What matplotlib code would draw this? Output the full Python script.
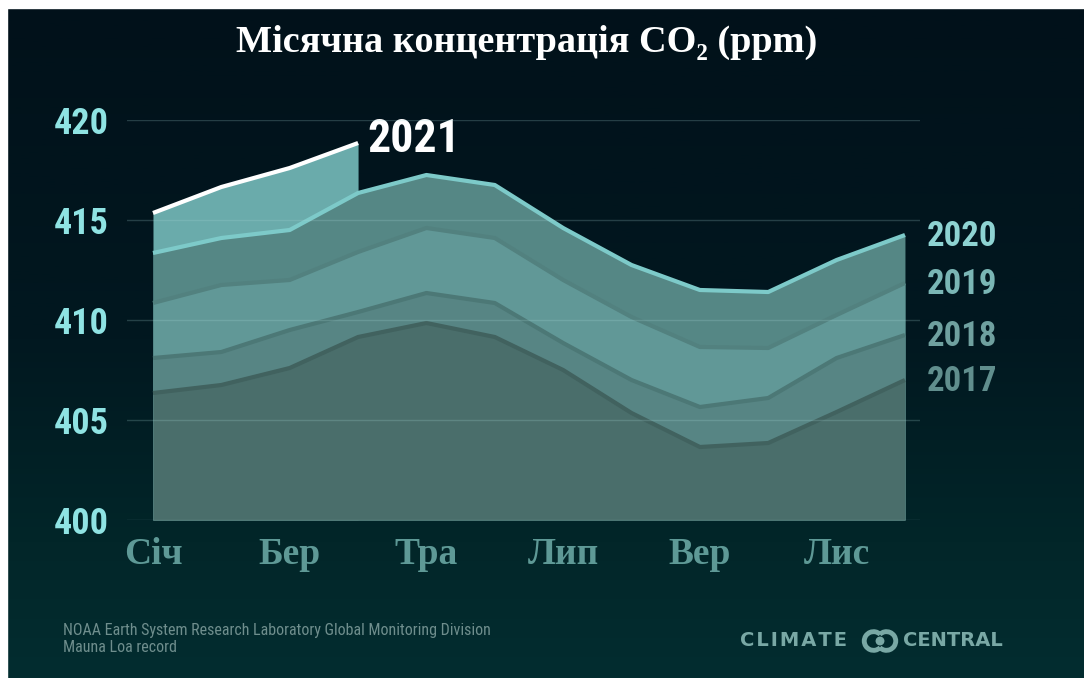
import os
import numpy as np
import matplotlib
matplotlib.use('Agg')
import matplotlib.pyplot as plt
from matplotlib import font_manager as fm
from matplotlib.colors import LinearSegmentedColormap
from matplotlib.patches import Rectangle, Arc, Circle

# monthly CO2 concentration at Mauna Loa (ppm)
months = ['Січ', 'Лют', 'Бер', 'Кві', 'Тра', 'Чер', 'Лип', 'Сер', 'Вер', 'Жов', 'Лис', 'Гру']
co2_2017 = [406.35, 406.75, 407.6, 409.15, 409.85, 409.15, 407.5, 405.35, 403.65, 403.85, 405.4, 407.0]
co2_2018 = [408.1, 408.4, 409.5, 410.4, 411.35, 410.85, 408.85, 407.0, 405.65, 406.1, 408.1, 409.25]
co2_2019 = [410.85, 411.75, 412.0, 413.4, 414.6, 414.1, 412.0, 410.15, 408.65, 408.6, 410.25, 411.85]
co2_2020 = [413.35, 414.1, 414.5, 416.35, 417.25, 416.75, 414.6, 412.75, 411.5, 411.4, 413.0, 414.25]
co2_2021 = [415.35, 416.65, 417.6, 418.85]
yticks = [400, 405, 410, 415, 420]
shown_months = [0, 2, 4, 6, 8, 10]


def pick_font(patterns, size, weight='bold'):
    # look for a narrow face on disk, otherwise use DejaVu condensed
    for pat in patterns:
        for f in fm.fontManager.ttflist:
            if os.path.basename(f.fname).startswith(pat):
                return fm.FontProperties(fname=f.fname, size=size)
    return fm.FontProperties(family='DejaVu Sans', stretch='condensed', weight=weight, size=size)


bold_narrow = ['NotoSans-CondensedBold.', 'NotoSans-ExtraCondensedBold.', 'RobotoCondensed-Bold.',
               'LiberationSansNarrow-Bold.']
reg_narrow = ['NotoSans-Condensed.', 'NotoSans-ExtraCondensed.', 'RobotoCondensed-Regular.',
              'LiberationSansNarrow-Regular.']
serif = ['Liberation Serif', 'DejaVu Serif']

W, H = 1084, 678
fig = plt.figure(figsize=(W / 100, H / 100), dpi=100)

# background gradient
bg = fig.add_axes([0, 0, 1, 1], zorder=-10)
cmap = LinearSegmentedColormap.from_list('bg', [(0, '#01111a'), (0.5, '#011820'), (0.8, '#022629'), (1, '#032d30')])
bg.imshow(np.linspace(0, 1, 256).reshape(-1, 1), aspect='auto', cmap=cmap, extent=[0, 1, 0, 1])
bg.axis('off')
fig.patches.append(Rectangle((0, 1 - 8 / H), 1, 8 / H, transform=fig.transFigure, color='white', zorder=5))
fig.patches.append(Rectangle((0, 0), 7 / W, 1, transform=fig.transFigure, color='white', zorder=5))

ax = fig.add_axes([127 / W, (H - 520) / H, 793 / W, 400 / H])
ax.patch.set_alpha(0)
x = np.arange(12)
ax.set_xlim(-0.38, 11.22)
ax.set_ylim(400, 420)

# 2021 drawn first so 2020 sits on top of it
ax.fill_between(x[:4], 400, co2_2021, color='#6aabab', lw=0, zorder=1)
ax.plot(x[:4], co2_2021, color='white', lw=3, zorder=1.5, solid_capstyle='butt')

layers = [
    (co2_2020, '#558785', '#7dcac9'),
    (co2_2019, '#619897', '#52817f'),
    (co2_2018, '#578584', '#4c7876'),
    (co2_2017, '#4a6e6b', '#41625f'),
]
for i, (vals, fc, lc) in enumerate(layers):
    z = 2 + i
    ax.fill_between(x, 400, vals, color=fc, lw=0, zorder=z)
    ax.plot(x, vals, color=lc, lw=3, zorder=z + 0.5, solid_capstyle='butt')

for yv in yticks:
    ax.axhline(yv, color='#a8d8d8', alpha=0.22, lw=1, zorder=10)

for s in ax.spines.values():
    s.set_visible(False)
ax.set_yticks(yticks)
ax.set_yticklabels([str(v) for v in yticks], fontproperties=pick_font(bold_narrow, 26), color='#8fe3e3')
ax.set_xticks(shown_months)
ax.set_xticklabels([months[i] for i in shown_months], family=serif, fontweight='bold', fontsize=27, color='#5e9996')
ax.tick_params(axis='y', length=0, pad=13)
ax.tick_params(axis='x', length=0, pad=12)

# year labels
year_cols = {'2020': '#8ed3d2', '2019': '#7ab6b5', '2018': '#6fa09f', '2017': '#608e8d'}
for (vals, _, _), yr in zip(layers, ['2020', '2019', '2018', '2017']):
    ax.annotate(yr, xy=(11, vals[-1]), xytext=(16, -1), textcoords='offset points',
                va='center', ha='left', fontproperties=pick_font(bold_narrow, 25),
                color=year_cols[yr], annotation_clip=False)
ax.annotate('2021', xy=(3, co2_2021[-1]), xytext=(7, 3), textcoords='offset points',
            va='center', ha='left', fontproperties=pick_font(bold_narrow, 33),
            color='white', annotation_clip=False)

fig.text(527 / W, 1 - 42 / H, 'Місячна концентрація CO₂ (ppm)', ha='center', va='center',
         family=serif, fontweight='bold', fontsize=27.5, color='white')

foot = pick_font(reg_narrow, 11.5, weight='normal')
fig.text(63 / W, 1 - 630 / H, 'NOAA Earth System Research Laboratory Global Monitoring Division',
         ha='left', va='center', fontproperties=foot, color='#6f8e8d')
fig.text(63 / W, 1 - 648 / H, 'Mauna Loa record', ha='left', va='center', fontproperties=foot, color='#6f8e8d')

logo_col = '#79a8a5'
fig.text(740 / W, 1 - 641 / H, 'C\u200aL\u200aI\u200aM\u200aA\u200aT\u200aE', ha='left', va='center',
         family='DejaVu Sans', fontweight='bold', fontsize=14, color=logo_col)
fig.text(1003 / W, 1 - 641 / H, 'CENTRAL', ha='right', va='center',
         family='DejaVu Sans', fontweight='bold', fontsize=14, color=logo_col)
lax = fig.add_axes([859 / W, 1 - 653 / H, 42 / W, 24 / H])
lax.set_xlim(-1.8, 1.8)
lax.set_ylim(-1, 1)
lax.set_aspect('equal')
lax.axis('off')
lax.add_patch(Arc((-0.55, 0), 1.6, 1.6, theta1=45, theta2=315, color=logo_col, lw=3.5))
lax.add_patch(Arc((0.55, 0), 1.6, 1.6, theta1=-135, theta2=135, color=logo_col, lw=3.5))
lax.add_patch(Circle((0, 0), 0.32, color=logo_col))

fig.savefig('out.png', dpi=100)
